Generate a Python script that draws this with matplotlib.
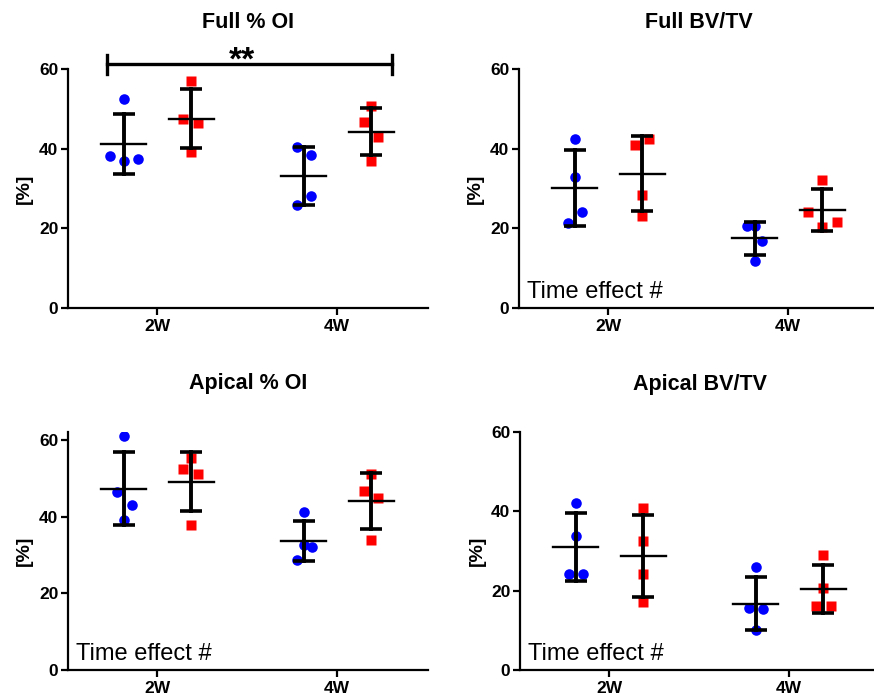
import numpy as np
import matplotlib
matplotlib.use('Agg')
import matplotlib.pyplot as plt
from matplotlib import rcParams

rcParams['font.family'] = ['Liberation Sans', 'DejaVu Sans']
rcParams['axes.linewidth'] = 1.6
rcParams['xtick.major.width'] = 1.6
rcParams['ytick.major.width'] = 1.6
rcParams['xtick.major.size'] = 5
rcParams['ytick.major.size'] = 5

COL_BLUE = '#0000FF'
COL_RED = '#FF0000'

weeks = ['2W', '4W']
titles = ['Full % OI', 'Full BV/TV', 'Apical % OI', 'Apical BV/TV']

# per panel: [2W blue, 2W red, 4W blue, 4W red]
full_oi = [[52.4, 38.2, 36.8, 37.5], [57.1, 47.4, 46.4, 39.1],
           [40.5, 38.3, 28.0, 25.9], [50.8, 46.6, 43.0, 36.8]]
full_bv = [[42.4, 33.0, 24.0, 21.4], [41.0, 42.4, 28.4, 23.1],
           [20.6, 20.6, 16.8, 11.8], [32.2, 24.2, 21.7, 20.4]]
apical_oi = [[61.0, 46.3, 43.0, 39.0], [55.2, 52.4, 51.1, 37.8],
             [41.2, 32.6, 32.1, 28.7], [51.1, 46.8, 44.8, 33.9]]
apical_bv = [[42.0, 33.8, 24.1, 24.1], [40.9, 32.5, 24.1, 17.1],
             [25.9, 15.5, 15.3, 10.1], [29.0, 20.6, 16.2, 16.2]]

# horizontal spread of overlapping points (GraphPad-style scatter)
spread_full_oi = [[0, -0.078, 0, 0.078], [0, -0.045, 0.04, 0],
                  [-0.04, 0.04, 0.04, -0.04], [0, -0.04, 0.04, 0]]
spread_full_bv = [[0, 0, 0.04, -0.037], [-0.04, 0.037, 0, 0],
                  [-0.045, 0, 0.04, 0], [0, -0.078, 0.08, 0]]
spread_apical_oi = [[0, -0.04, 0.043, 0], [0, -0.046, 0.04, 0],
                    [0, 0, 0.045, -0.04], [0, -0.04, 0.037, 0]]
spread_apical_bv = [[0, 0, -0.04, 0.04], [0, 0, 0, 0],
                    [0, -0.04, 0.04, 0], [0, 0, -0.04, 0.043]]

panels = [full_oi, full_bv, apical_oi, apical_bv]
spreads = [spread_full_oi, spread_full_bv, spread_apical_oi, spread_apical_bv]
ylims = [60, 60, 62, 60]
time_effect = [False, True, True, True]

rects = [[0.0778, 0.560, 0.4119, 0.3414],
         [0.5938, 0.560, 0.4119, 0.3414],
         [0.0778, 0.0429, 0.4119, 0.3396],
         [0.5950, 0.0429, 0.4119, 0.3400]]
title_pads = [29.5, 29.5, 31.5, 30.5]

fig = plt.figure(figsize=(8.74, 7.0), dpi=100)

for k in range(4):
    ax = fig.add_axes(rects[k])
    data = panels[k]
    for g in range(4):
        week = g // 2
        is_red = g % 2 == 1
        x0 = week + (0.19 if is_red else -0.185)
        vals = np.array(data[g])
        xs = x0 + np.array(spreads[k][g])
        if is_red:
            ax.plot(xs, vals, 's', color=COL_RED, ms=7, mec='none', zorder=2)
        else:
            ax.plot(xs, vals, 'o', color=COL_BLUE, ms=7.6, mec='none', zorder=2)
        m = vals.mean()
        sd = vals.std(ddof=1)
        ax.plot([x0 - 0.125, x0 + 0.125], [m, m], color='black', lw=1.7, zorder=3)
        ax.plot([x0, x0], [m - sd, m + sd], color='black', lw=2.8, zorder=3)
        for yv in (m - sd, m + sd):
            ax.plot([x0 - 0.062, x0 + 0.062], [yv, yv], color='black', lw=2.6,
                    zorder=3, solid_capstyle='butt')

    ax.set_xlim(-0.495, 1.505)
    ax.set_ylim(0, ylims[k])
    ax.set_yticks([0, 20, 40, 60])
    ax.set_xticks([0, 1])
    ax.set_xticklabels(weeks)
    for lbl in ax.get_xticklabels() + ax.get_yticklabels():
        lbl.set_fontweight('bold')
        lbl.set_fontsize(12.5)
    ax.tick_params(axis='y', pad=2)
    ax.tick_params(axis='x', pad=3)
    ax.spines['top'].set_visible(False)
    ax.spines['right'].set_visible(False)
    ax.set_ylabel('[%]', fontsize=14, fontweight='bold', labelpad=4)
    ax.set_title(titles[k], fontsize=15.5, fontweight='bold', pad=title_pads[k])

    if time_effect[k]:
        ax.text(0.022, 0.022, 'Time effect #', transform=ax.transAxes,
                fontsize=17, ha='left', va='bottom')

    if k == 0:
        # significance bracket 2W vs 4W
        xa, xb, yb = -0.28, 1.305, 61.2
        ax.plot([xa, xb], [yb, yb], color='black', lw=2.4, clip_on=False)
        for xe in (xa, xb):
            ax.plot([xe, xe], [yb - 2.4, yb + 2.4], color='black', lw=2.4,
                    clip_on=False)
        ax.text(0.47, 58.0, '**', fontsize=24, fontweight='bold',
                ha='center', va='bottom')

fig.savefig('out.png', dpi=100)
